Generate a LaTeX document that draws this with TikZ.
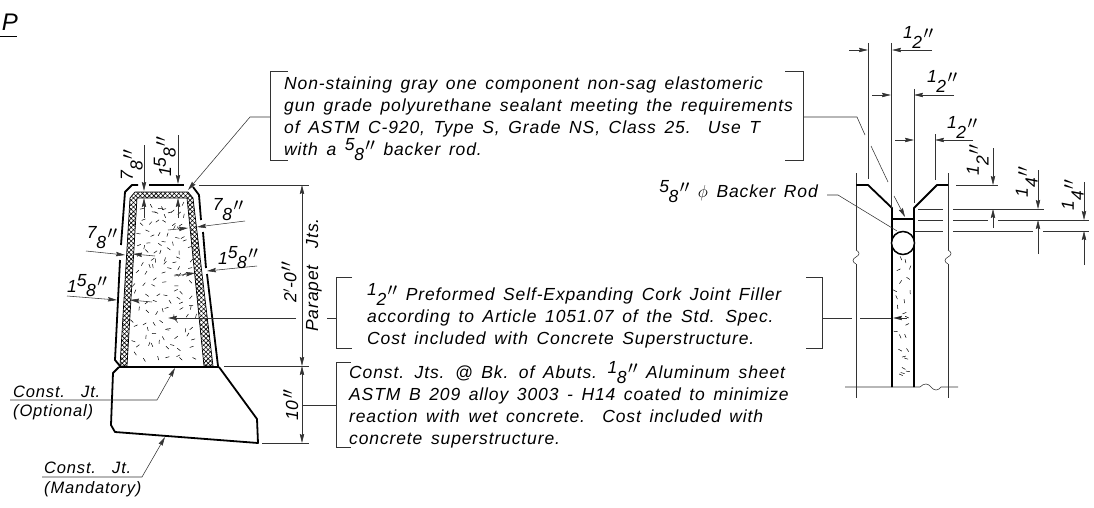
\documentclass[tikz,border=0pt]{standalone}
\usepackage{fontspec}
\setmainfont{Liberation Sans}[WordSpace=1.5,LetterSpace=5]
\usetikzlibrary{arrows.meta}
\usetikzlibrary{patterns.meta}
\newcommand{\frc}[2]{\smash{\raisebox{.3em}{#1}\kern-.02em\raisebox{-.26em}{#2}}}
\newcommand{\inch}{\smash{\raisebox{.3em}{\kern.08em$\prime\prime$}}}
\newcommand{\wob}[2]{(#1,#2) .. controls (#1+4,#2+2) and (#1+4,#2+5) .. (#1,#2+7) .. controls (#1-4,#2+9) and (#1-4,#2+12) .. (#1,#2+14)}

\begin{document}
\begin{tikzpicture}[x=1pt, y=-1pt, >={Stealth[length=9pt,width=4.4pt,inset=1pt]}]
    \tikzstyle{every node}=[font=\fontsize{17.5}{22}\selectfont\itshape, inner sep=0pt]
    \tikzstyle{small label}=[font=\fontsize{16.5}{22}\selectfont\itshape]
    \tikzstyle{wall}=[line width=1.8pt, line join=round]
    \tikzstyle{thin line}=[line width=0.55pt, draw=black!80]
    \tikzstyle{leader}=[thin line, ->]
    \tikzstyle{speck}=[line width=0.5pt]
    \tikzstyle{note}=[align=left, anchor=north west]
    \useasboundingbox (0,0) rectangle (1094,508);

    % title
    \node (title) at (10,22) {\fontsize{24}{24}\selectfont P};
    \coordinate (title_a) at (0,36);
    \coordinate (title_b) at (17,36);
    \draw[line width=0.7pt] (title_a) -- (title_b);

    % parapet section
    \path[pattern={Hatch[angle=45,distance=3.2pt,line width=0.6pt]}]
      (120,366) -- (130,198) -- (135,192) -- (188,192) -- (193,198) -- (213,366) -- (204,366)
      -- (187,198) -- (137,198) -- (127,366) -- cycle;
    \draw[line width=0.7pt]
      (120,366) -- (130,198) -- (135,192) -- (188,192) -- (193,198) -- (213,366) -- (204,366)
      -- (187,198) -- (137,198) -- (127,366) -- cycle;
    \draw[wall] (138,185) -- (132,185) -- (125,192) -- (121,245);
    \draw[wall] (120,260) -- (115,360) -- (120,366);
    \draw[wall] (149,185) -- (184,185);
    \draw[wall] (193,187) -- (199,195) -- (201,220);
    \draw[wall] (203,232) -- (206,268);
    \draw[wall] (207,274) -- (218,366);
    \draw[wall] (119,367) -- (219,367);
    \draw[wall] (119,367) -- (113,373) -- (111,425) -- (115,432) -- (258,443) -- (257,419) -- (219,367);

    % cork speckle in the parapet
    \pgfmathsetseed{4711}
    \foreach \r in {0,...,17}{
      \foreach \c in {0,...,6}{
        \pgfmathsetmacro{\py}{202+(\r+rnd)*8.8}
        \pgfmathsetmacro{\tt}{(\py-198)/168}
        \pgfmathsetmacro{\px}{(140-10*\tt)+(44+27*\tt)*(\c+rnd)/7}
        \pgfmathsetmacro{\pa}{360*rnd}
        \draw[speck] (\px,\py) -- ++(\pa:4);
      }
    }

    % dimensions on the parapet
    \draw[leader] (144,145) -- (144,191);
    \draw[leader] (144,218) -- (144,198);
    \draw[leader] (178,135) -- (178,184);
    \draw[leader] (178,218) -- (178,198);
    \node[rotate=90] (d_a) at (138,165) {\frc{7}{8}\inch};
    \node[rotate=90] (d_b) at (165,157) {1\frc{5}{8}\inch};

    \draw[leader] (245,221) -- (197,227);
    \draw[leader] (168,230) -- (188,228);
    \node (d_c) at (228,216) {\frc{7}{8}\inch};
    \draw[leader] (257,266) -- (207,271);
    \draw[leader] (174,276) -- (195,273);
    \node (d_d) at (238,258) {1\frc{5}{8}\inch};
    \draw[leader] (86,251) -- (125,255);
    \draw[leader] (155,256) -- (133,254);
    \node (d_e) at (102,244) {\frc{7}{8}\inch};
    \draw[leader] (67,296) -- (117,300);
    \draw[leader] (152,302) -- (130,300);
    \node (d_f) at (87,286) {1\frc{5}{8}\inch};

    % overall heights
    \coordinate (h_top) at (302,185);
    \coordinate (h_mid) at (302,366);
    \coordinate (h_bot) at (302,443);
    \draw[thin line] (199,185) -- (309,185);
    \draw[thin line] (224,366) -- (309,366);
    \draw[thin line] (262,443) -- (309,443);
    \draw[thin line, <->] (h_top) -- (h_mid);
    \draw[thin line, <->] (h_mid) -- (h_bot);
    \node[rotate=90] (h_a) at (290,282) {2$'$-0\inch};
    \node[rotate=90] (h_b) at (314,275) {Parapet\ \ Jts.};
    \node[rotate=90] (h_c) at (292,405) {10\inch};

    % construction joints
    \node[small label, anchor=south west] (jt_a) at (13,398) {Const.\ \ Jt.};
    \node[small label, anchor=north west] (jt_b) at (13,404) {(Optional)};
    \coordinate (jt_c) at (10,400);
    \coordinate (jt_d) at (157,400);
    \coordinate (jt_e) at (175,368);
    \draw[leader] (jt_c) -- (jt_d) -- (jt_e);
    \node[small label, anchor=south west] (jt_f) at (44,474) {Const.\ \ Jt.};
    \node[small label, anchor=north west] (jt_g) at (44,481) {(Mandatory)};
    \coordinate (jt_h) at (42,477);
    \coordinate (jt_i) at (142,477);
    \coordinate (jt_j) at (165,437);
    \draw[leader] (jt_h) -- (jt_i) -- (jt_j);

    % notes
    \node[note] (note_a) at (284,77) {Non-staining gray one component non-sag elastomeric\\
      gun grade polyurethane sealant meeting the requirements\\
      of ASTM C-920, Type S, Grade NS, Class 25.\ \ Use T\\
      with a \frc{5}{8}\inch\ backer rod.};
    \node[note] (note_b) at (367,288) {\frc{1}{2}\inch\ Preformed Self-Expanding Cork Joint Filler\\
      according to Article 1051.07 of the Std. Spec.\\
      Cost included with Concrete Superstructure.};
    \node[note] (note_c) at (349,366) {Const. Jts. @ Bk. of Abuts. \frc{1}{8}\inch\ Aluminum sheet\\
      ASTM B 209 alloy 3003 - H14 coated to minimize\\
      reaction with wet concrete.\ \ Cost included with\\
      concrete superstructure.};
    \draw[thin line] (288,71) -- (270,71) -- (270,160) -- (288,160);
    \draw[thin line] (785,71) -- (803,71) -- (803,160) -- (785,160);
    \draw[thin line] (352,277) -- (336,277) -- (336,348) -- (352,348);
    \draw[thin line] (806,277) -- (822,277) -- (822,348) -- (806,348);
    \draw[thin line] (351,362) -- (336,362) -- (336,447) -- (351,447);

    % leaders from the notes
    \draw[leader] (270,117) -- (250,117) -- (188,190);
    \draw[thin line] (327,318) -- (336,318);
    \draw[leader] (296,318) -- (168,318);
    \draw[thin line] (302,405) -- (336,405);
    \draw[thin line] (803,117) -- (857,117) -- (865,135);
    \draw[thin line] (871,146) -- (888,182);
    \draw[leader] (894,196) -- (905,217);
    \draw[thin line] (822,318) -- (852,318);
    \draw[thin line] (860,318) -- (892,318);
    \draw[leader] (907,318) -- (893,318);

    % joint detail
    \draw[thin line] (856,173) -- (856,250);
    \draw[thin line] (948,173) -- (948,250);
    \draw[thin line] \wob{856}{250};
    \draw[thin line] \wob{948}{250};
    \draw[thin line] (856,264) -- (856,398);
    \draw[thin line] (948,264) -- (948,398);
    \draw[thin line] (845,387) -- (920,387) .. controls (924,383) and (928,383) .. (931,387)
      .. controls (934,391) and (938,391) .. (941,387) -- (958,387);
    \draw[wall] (856,185) -- (868,185) -- (892,208) -- (892,387);
    \draw[wall] (948,185) -- (937,185) -- (914,208) -- (914,387);
    \draw[wall] (892,219) -- (914,219);
    \node[draw, circle, line width=1.5pt, fill=white, minimum size=23pt] (rod) at (903,243) {};

    % cork speckle in the joint
    \pgfmathsetseed{2024}
    \foreach \r in {0,...,12}{
      \foreach \c in {0,1}{
        \pgfmathsetmacro{\py}{259+(\r+rnd)*9.4}
        \pgfmathsetmacro{\px}{896+(\c+rnd)*7}
        \pgfmathsetmacro{\pa}{360*rnd}
        \draw[speck] (\px,\py) -- ++(\pa:4);
      }
    }

    % extension lines of the detail
    \draw[thin line] (868,43) -- (868,179);
    \draw[thin line] (891,43) -- (891,208);
    \draw[thin line] (914,89) -- (914,203);
    \draw[thin line] (935,134) -- (935,180);
    \draw[thin line] (956,185) -- (998,185);
    \draw[thin line] (918,209) -- (943,209);
    \draw[thin line] (953,209) -- (1044,209);
    \draw[thin line] (918,220) -- (943,220);
    \draw[thin line] (953,220) -- (988,220);
    \draw[thin line] (998,220) -- (1089,220);
    \draw[thin line] (915,231) -- (943,231);
    \draw[thin line] (953,231) -- (1033,231);
    \draw[thin line] (1043,231) -- (1089,231);

    % dimensions of the detail
    \draw[leader] (849,50) -- (868,50);
    \draw[leader] (932,50) -- (892,50);
    \node (w_a) at (918,44) {\frc{1}{2}\inch};
    \draw[leader] (872,95) -- (891,95);
    \draw[leader] (954,95) -- (914,95);
    \node (w_b) at (942,88) {\frc{1}{2}\inch};
    \draw[leader] (895,140) -- (914,140);
    \draw[leader] (973,140) -- (935,140);
    \node (w_c) at (962,134) {\frc{1}{2}\inch};
    \draw[leader] (993,148) -- (993,185);
    \draw[leader] (993,228) -- (993,209);
    \node[rotate=90] (w_d) at (984,160) {\frc{1}{2}\inch};
    \draw[leader] (1038,170) -- (1038,209);
    \draw[leader] (1038,254) -- (1038,220);
    \node[rotate=90] (w_e) at (1033,182) {\frc{1}{4}\inch};
    \draw[leader] (1084,182) -- (1084,220);
    \draw[leader] (1084,265) -- (1084,231);
    \node[rotate=90] (w_f) at (1079,195) {\frc{1}{4}\inch};

    % backer rod label
    \node[anchor=east] (rod_lbl) at (818,193) {\frc{5}{8}\inch\ $\phi$ Backer Rod};
    \coordinate (rod_a) at (827,195);
    \coordinate (rod_b) at (838,195);
    \coordinate (rod_c) at (897,231);
    \draw[thin line] (rod_a) -- (rod_b) -- (rod_c);
\end{tikzpicture}
\end{document}
